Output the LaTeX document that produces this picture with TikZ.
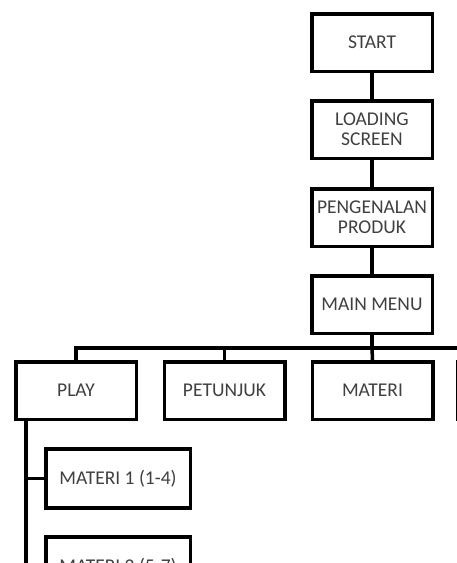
\documentclass[tikz,border=0pt]{standalone}
\usepackage{fontspec}
\setmainfont{Carlito}
\begin{document}
\begin{tikzpicture}[x=1pt,y=-1pt,
  box/.style={draw=black,line width=3.5pt,minimum width=120.5pt,minimum height=57.5pt,
    inner sep=1pt,align=center,text=black!75,
    font=\fontsize{19.5}{20}\selectfont},
  wide/.style={minimum width=144.5pt,minimum height=59pt},
  conn/.style={line width=3.5pt}]
\path[use as bounding box,clip] (0,0) rectangle (457,563);
\fill[white] (0,0) rectangle (457,563);
\node[box] (start) at (372,42.5) {START};
\node[box] (load) at (372,129.5) {LOADING\\SCREEN};
\node[box] (intro) at (372,217.5) {PENGENALAN\\PRODUK};
\node[box] (menu) at (372,304.5) {MAIN MENU};
\node[box] (play) at (76,390.5) {PLAY};
\node[box] (help) at (224.5,390.5) {PETUNJUK};
\node[box] (mat) at (372.5,390.5) {MATERI};
\node[box] (extra) at (518,390.5) {};
\node[box,wide] (m1) at (118,478.5) {MATERI 1 (1-4)};
\node[box,wide] (m2) at (118,566.5) {MATERI 2 (5-7)};
\coordinate (bus) at (372,348);
\draw[conn] (start) -- (load);
\draw[conn] (load) -- (intro);
\draw[conn] (intro) -- (menu);
\draw[conn] (menu) -- (bus);
\draw[conn] (play.north) |- (bus) -| (extra.north);
\draw[conn] (help.north) -- (help.north |- bus);
\draw[conn] (mat.north) -- (bus);
\coordinate (trunk) at ([xshift=-50pt]play.south);
\draw[conn] (trunk) -- (trunk |- 0,600);
\draw[conn] (trunk |- m1.west) -- (m1.west);
\draw[conn] (trunk |- m2.west) -- (m2.west);
\end{tikzpicture}
\end{document}
